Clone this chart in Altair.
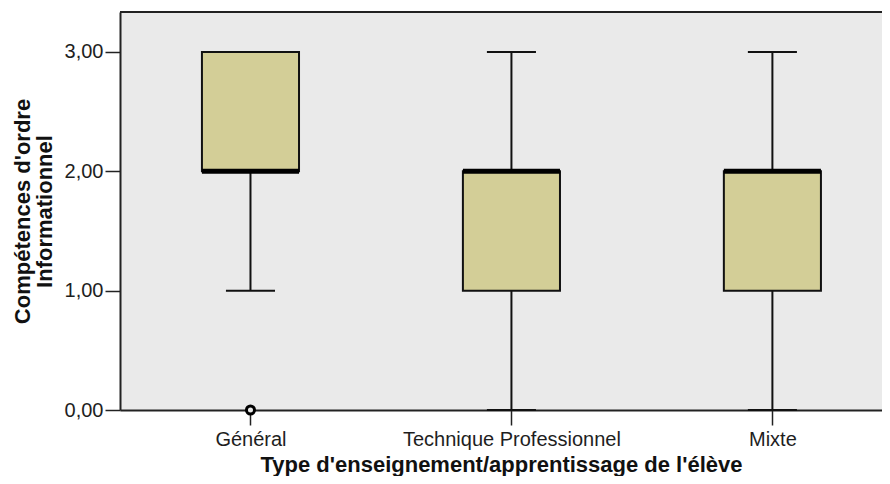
import json
import altair as alt
import pandas as pd

# ---- data ----
categories = ["Général", "Technique Professionnel", "Mixte"]
lower_whisker = [1, 0, 0]
q1 = [2, 1, 1]
median = [2, 2, 2]
q3 = [3, 2, 2]
upper_whisker = [3, 3, 3]
outlier_category = ["Général"]
outlier_value = [0]

y_ticks = [0, 1, 2, 3]

df = pd.DataFrame({
    "cat": categories,
    "pos": list(range(len(categories))),
    "lw": lower_whisker,
    "q1": q1,
    "med": median,
    "q3": q3,
    "uw": upper_whisker,
})
out_df = pd.DataFrame({
    "cat": outlier_category,
    "pos": [categories.index(c) for c in outlier_category],
    "val": outlier_value,
})

BOX_HALF = 0.186
CAP_HALF = 0.094
W, H = 762, 398
FONT = "Liberation Sans"

label_expr = json.dumps(categories) + "[datum.value]"

x_scale = alt.Scale(domain=[-0.5, 2.42], nice=False, zero=False)
y_scale = alt.Scale(domain=[0, 3.335], nice=False, zero=True)

x_axis = alt.Axis(
    values=list(range(len(categories))), labelExpr=label_expr, labelLimit=0,
    title="Type d'enseignement/apprentissage de l'élève",
    grid=False, tickSize=15, tickWidth=1.5, tickColor="#222", domainColor="#222", domainWidth=2,
    labelFont=FONT, labelFontSize=20, labelColor="#1e1e1e", labelPadding=4,
    titleFont=FONT, titleFontSize=22, titleFontWeight="bold", titleColor="#111",
    titleX=381, titleY=61, titleBaseline="alphabetic",
)
y_axis = alt.Axis(
    values=y_ticks, labelExpr="replace(format(datum.value, '.2f'), '.', ',')",
    title=["Compétences d'ordre", "Informationnel"],
    grid=False, tickSize=15, tickWidth=1.5, tickColor="#222", domainColor="#222", domainWidth=2,
    labelFont=FONT, labelFontSize=20, labelColor="#1e1e1e", labelPadding=2,
    titleFont=FONT, titleFontSize=22, titleFontWeight="bold", titleColor="#111",
    titleLineHeight=22, titleX=-86, titleY=H / 2, titleBaseline="bottom", titleAngle=-90,
)

base = alt.Chart(df).transform_calculate(
    bx1=f"datum.pos - {BOX_HALF}", bx2=f"datum.pos + {BOX_HALF}",
    cx1=f"datum.pos - {CAP_HALF}", cx2=f"datum.pos + {CAP_HALF}",
)

lower_wh = base.mark_rule(color="#111", strokeWidth=2).encode(
    x=alt.X("pos:Q", scale=x_scale, axis=x_axis),
    y=alt.Y("lw:Q", scale=y_scale, axis=y_axis),
    y2="q1:Q",
)
upper_wh = base.mark_rule(color="#111", strokeWidth=2).encode(
    x=alt.X("pos:Q", scale=x_scale), y=alt.Y("q3:Q", scale=y_scale), y2="uw:Q",
)
lower_cap = base.mark_rule(color="#111", strokeWidth=2).encode(
    x=alt.X("cx1:Q", scale=x_scale), x2="cx2:Q", y=alt.Y("lw:Q", scale=y_scale),
)
upper_cap = base.mark_rule(color="#111", strokeWidth=2).encode(
    x=alt.X("cx1:Q", scale=x_scale), x2="cx2:Q", y=alt.Y("uw:Q", scale=y_scale),
)
box = base.mark_rect(fill="#D3CE97", stroke="#111", strokeWidth=2).encode(
    x=alt.X("bx1:Q", scale=x_scale), x2="bx2:Q",
    y=alt.Y("q1:Q", scale=y_scale), y2="q3:Q",
)
med = base.mark_rule(color="#000", strokeWidth=5).encode(
    x=alt.X("bx1:Q", scale=x_scale), x2="bx2:Q", y=alt.Y("med:Q", scale=y_scale),
)
outl = alt.Chart(out_df).mark_point(
    shape="circle", size=65, stroke="#000", strokeWidth=3, fill="#EAEAEA", filled=False, opacity=1
).encode(
    x=alt.X("pos:Q", scale=x_scale), y=alt.Y("val:Q", scale=y_scale),
)
top_frame = alt.Chart(df).mark_rule(color="#222", strokeWidth=2).encode(
    y=alt.value(0), x=alt.value(0), x2=alt.value(W)
)

chart = alt.layer(
    lower_wh, upper_wh, lower_cap, upper_cap, box, med, outl, top_frame
).properties(
    width=W, height=H,
    padding={"left": 112, "top": 4, "right": 0, "bottom": 66},
    autosize=alt.AutoSizeParams(type="none"),
    background="white",
).configure_view(fill="#EAEAEA", stroke=None)

chart.save("out.html", embed_options={"renderer": "svg", "actions": False})
